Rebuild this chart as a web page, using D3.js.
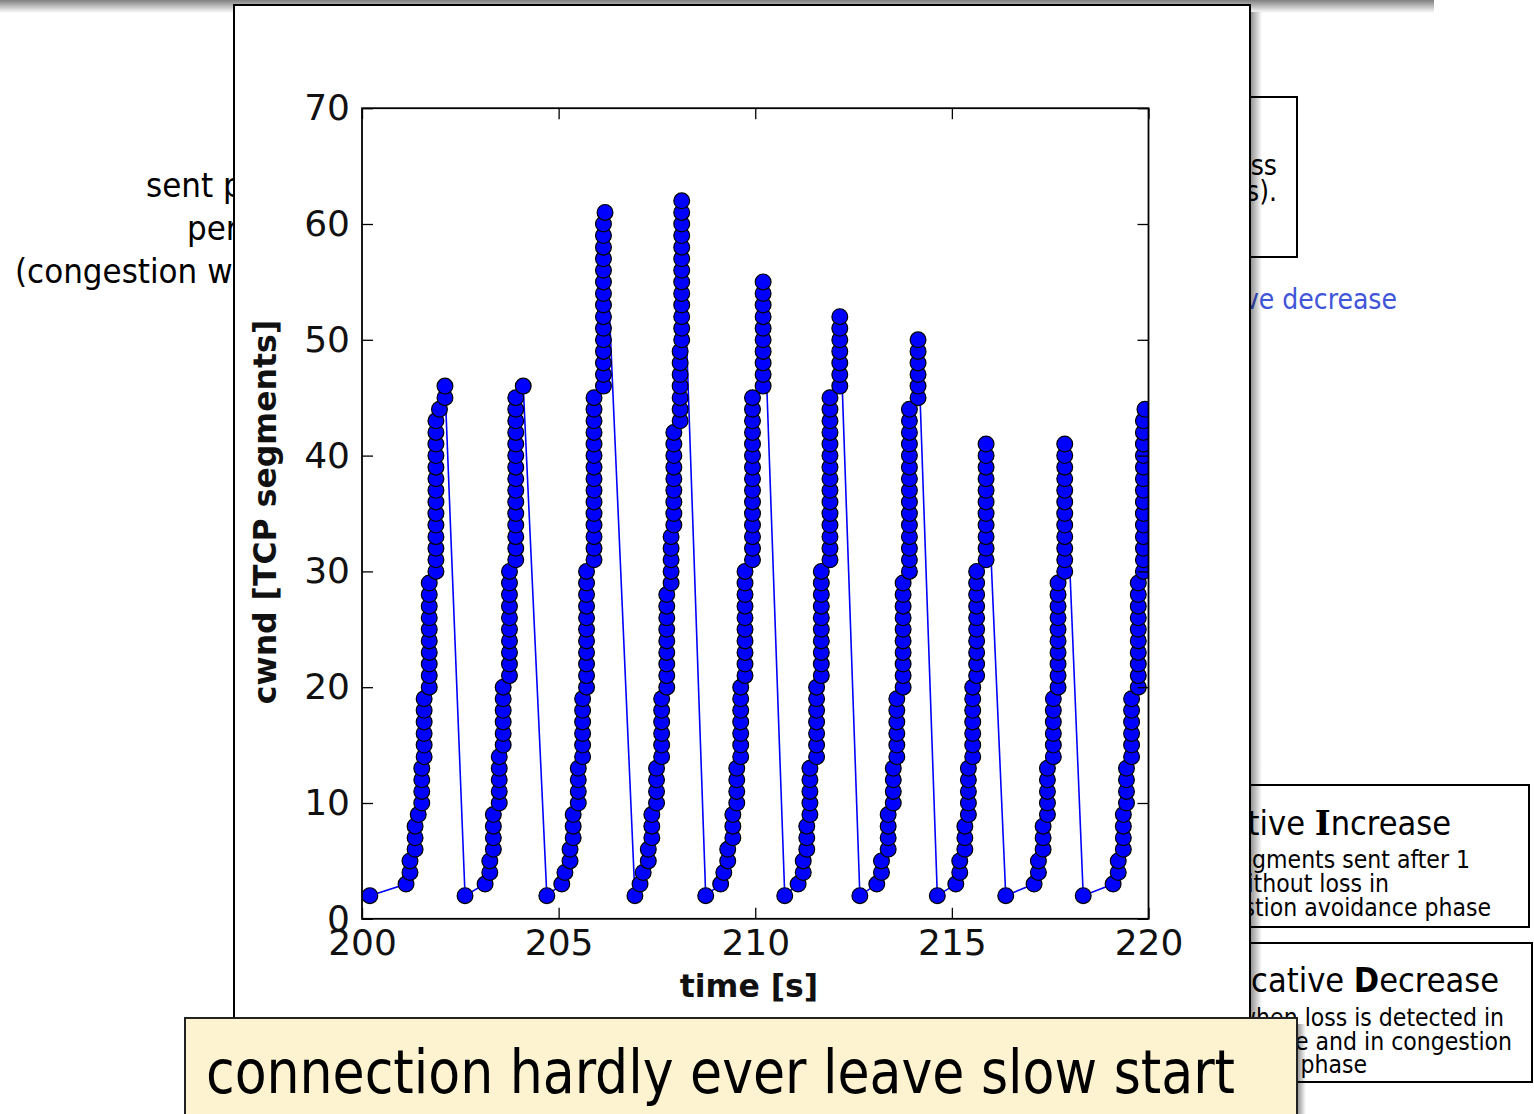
<!DOCTYPE html>
<html>
<head>
<meta charset="utf-8">
<script src="https://cdn.jsdelivr.net/npm/d3@7"></script>
<style>
  html, body { margin: 0; padding: 0; background: #fff; overflow: hidden; }
  svg { display: block; }
</style>
</head>
<body>
<svg id="slide" width="1534" height="1114"></svg>
<script>
// Axis ticks
const xTicks = [200, 205, 210, 215, 220];
const yTicks = [0, 10, 20, 30, 40, 50, 60, 70];

// cwnd trace [time s, cwnd segments], one array per slow-start cycle
const cycle1 = [
  [200.20,2],[201.12,3],[201.22,4],[201.22,5],[201.35,6],[201.35,7],[201.35,8],[201.43,9],
  [201.52,10],[201.52,11],[201.52,12],[201.52,13],
  [201.58,14],[201.58,15],[201.58,16],[201.58,17],[201.58,18],[201.58,19],
  [201.71,20],[201.71,21],[201.71,22],[201.71,23],[201.71,24],[201.71,25],[201.71,26],[201.71,27],[201.71,28],[201.71,29],
  [201.88,30],[201.88,31],[201.88,32],[201.88,33],[201.88,34],[201.88,35],[201.88,36],[201.88,37],[201.88,38],[201.88,39],[201.88,40],[201.88,41],[201.88,42],[201.88,43],
  [201.97,44],[202.11,45],[202.11,46]
];
const cycle2 = [
  [202.62,2],[203.13,3],[203.25,4],[203.25,5],
  [203.34,6],[203.34,7],[203.34,8],[203.34,9],
  [203.49,10],[203.49,11],[203.49,12],[203.49,13],[203.49,14],
  [203.59,15],[203.59,16],[203.59,17],[203.59,18],[203.59,19],[203.59,20],
  [203.75,21],[203.75,22],[203.75,23],[203.75,24],[203.75,25],[203.75,26],[203.75,27],[203.75,28],[203.75,29],[203.75,30],
  [203.91,31],[203.91,32],[203.91,33],[203.91,34],[203.91,35],[203.91,36],[203.91,37],[203.91,38],[203.91,39],[203.91,40],[203.91,41],[203.91,42],[203.91,43],[203.91,44],[203.91,45],
  [204.10,46]
];
const cycle3 = [
  [204.70,2],[205.08,3],[205.16,4],[205.29,5],[205.29,6],
  [205.37,7],[205.37,8],[205.37,9],
  [205.50,10],[205.50,11],[205.50,12],[205.50,13],
  [205.61,14],[205.61,15],[205.61,16],[205.61,17],[205.61,18],[205.61,19],
  [205.71,20],[205.71,21],[205.71,22],[205.71,23],[205.71,24],[205.71,25],[205.71,26],[205.71,27],[205.71,28],[205.71,29],[205.71,30],
  [205.90,31],[205.90,32],[205.90,33],[205.90,34],[205.90,35],[205.90,36],[205.90,37],[205.90,38],[205.90,39],[205.90,40],[205.90,41],[205.90,42],[205.90,43],[205.90,44],[205.90,45],
  [206.14,46],[206.14,47],[206.14,48],[206.14,49],[206.14,50],[206.14,51],[206.14,52],[206.14,53],[206.14,54],[206.14,55],[206.14,56],[206.14,57],[206.14,58],[206.14,59],[206.14,60],
  [206.18,61]
];
const cycle4 = [
  [206.94,2],[207.07,3],[207.15,4],[207.28,5],[207.28,6],
  [207.37,7],[207.37,8],[207.37,9],
  [207.49,10],[207.49,11],[207.49,12],[207.49,13],
  [207.62,14],[207.62,15],[207.62,16],[207.62,17],[207.62,18],[207.62,19],
  [207.75,20],[207.75,21],[207.75,22],[207.75,23],[207.75,24],[207.75,25],[207.75,26],[207.75,27],[207.75,28],
  [207.86,29],[207.86,30],[207.86,31],[207.86,32],[207.86,33],
  [207.93,34],[207.93,35],[207.93,36],[207.93,37],[207.93,38],[207.93,39],[207.93,40],[207.93,41],[207.93,42],
  [208.09,43],[208.09,44],[208.09,45],[208.09,46],[208.09,47],[208.09,48],[208.09,49],
  [208.13,50],[208.13,51],[208.13,52],[208.13,53],[208.13,54],[208.13,55],[208.13,56],[208.13,57],[208.13,58],[208.13,59],[208.13,60],[208.13,61],[208.13,62]
];
const cycle5 = [
  [208.74,2],[209.12,3],[209.20,4],[209.30,5],[209.30,6],
  [209.43,7],[209.43,8],[209.43,9],
  [209.53,10],[209.53,11],[209.53,12],[209.53,13],
  [209.63,14],[209.63,15],[209.63,16],[209.63,17],[209.63,18],[209.63,19],[209.63,20],
  [209.74,21],[209.74,22],[209.74,23],[209.74,24],[209.74,25],[209.74,26],[209.74,27],[209.74,28],[209.74,29],[209.74,30],
  [209.93,31],[209.93,32],[209.93,33],[209.93,34],[209.93,35],[209.93,36],[209.93,37],[209.93,38],[209.93,39],[209.93,40],[209.93,41],[209.93,42],[209.93,43],[209.93,44],[209.93,45],
  [210.20,46],[210.20,47],[210.20,48],[210.20,49],[210.20,50],[210.20,51],[210.20,52],[210.20,53],[210.20,54],[210.20,55]
];
const cycle6 = [
  [210.75,2],[211.09,3],[211.22,4],[211.22,5],
  [211.31,6],[211.31,7],[211.31,8],
  [211.39,9],[211.39,10],[211.39,11],[211.39,12],[211.39,13],
  [211.56,14],[211.56,15],[211.56,16],[211.56,17],[211.56,18],[211.56,19],[211.56,20],
  [211.68,21],[211.68,22],[211.68,23],[211.68,24],[211.68,25],[211.68,26],[211.68,27],[211.68,28],[211.68,29],[211.68,30],
  [211.90,31],[211.90,32],[211.90,33],[211.90,34],[211.90,35],[211.90,36],[211.90,37],[211.90,38],[211.90,39],[211.90,40],[211.90,41],[211.90,42],[211.90,43],[211.90,44],[211.90,45],
  [212.15,46],[212.15,47],[212.15,48],[212.15,49],[212.15,50],[212.15,51],[212.15,52]
];
const cycle7 = [
  [212.66,2],[213.09,3],[213.21,4],[213.21,5],
  [213.38,6],[213.38,7],[213.38,8],[213.38,9],
  [213.51,10],[213.51,11],[213.51,12],[213.51,13],
  [213.60,14],[213.60,15],[213.60,16],[213.60,17],[213.60,18],[213.60,19],
  [213.76,20],[213.76,21],[213.76,22],[213.76,23],[213.76,24],[213.76,25],[213.76,26],[213.76,27],[213.76,28],[213.76,29],
  [213.92,30],[213.92,31],[213.92,32],[213.92,33],[213.92,34],[213.92,35],[213.92,36],[213.92,37],[213.92,38],[213.92,39],[213.92,40],[213.92,41],[213.92,42],[213.92,43],[213.92,44],
  [214.14,45],[214.14,46],[214.14,47],[214.14,48],[214.14,49],[214.14,50]
];
const cycle8 = [
  [214.63,2],[215.10,3],[215.20,4],[215.20,5],
  [215.33,6],[215.33,7],[215.33,8],
  [215.42,9],[215.42,10],[215.42,11],[215.42,12],[215.42,13],
  [215.53,14],[215.53,15],[215.53,16],[215.53,17],[215.53,18],[215.53,19],[215.53,20],
  [215.63,21],[215.63,22],[215.63,23],[215.63,24],[215.63,25],[215.63,26],[215.63,27],[215.63,28],[215.63,29],[215.63,30],
  [215.87,31],[215.87,32],[215.87,33],[215.87,34],[215.87,35],[215.87,36],[215.87,37],[215.87,38],[215.87,39],[215.87,40],[215.87,41]
];
const cycle9 = [
  [216.37,2],[217.09,3],[217.20,4],[217.20,5],
  [217.32,6],[217.32,7],[217.32,8],
  [217.43,9],[217.43,10],[217.43,11],[217.43,12],[217.43,13],
  [217.58,14],[217.58,15],[217.58,16],[217.58,17],[217.58,18],[217.58,19],
  [217.70,20],[217.70,21],[217.70,22],[217.70,23],[217.70,24],[217.70,25],[217.70,26],[217.70,27],[217.70,28],[217.70,29],
  [217.87,30],[217.87,31],[217.87,32],[217.87,33],[217.87,34],[217.87,35],[217.87,36],[217.87,37],[217.87,38],[217.87,39],[217.87,40],[217.87,41]
];
const cycle10 = [
  [218.34,2],[219.10,3],[219.23,4],[219.23,5],
  [219.36,6],[219.36,7],[219.36,8],[219.36,9],
  [219.44,10],[219.44,11],[219.44,12],[219.44,13],
  [219.57,14],[219.57,15],[219.57,16],[219.57,17],[219.57,18],[219.57,19],
  [219.74,20],[219.74,21],[219.74,22],[219.74,23],[219.74,24],[219.74,25],[219.74,26],[219.74,27],[219.74,28],[219.74,29],
  [219.87,30],[219.87,31],[219.87,32],[219.87,33],[219.87,34],[219.87,35],[219.87,36],[219.87,37],[219.87,38],[219.87,39],[219.87,40],[219.87,41],[219.87,42],[219.87,43],
  [219.91,44]
];

const cycles = [cycle1, cycle2, cycle3, cycle4, cycle5, cycle6, cycle7, cycle8, cycle9, cycle10];
const trace = cycles.flat();

const svg = d3.select('#slide');
const defs = svg.append('defs');
const SANS_C = '"DejaVu Sans Condensed", "DejaVu Sans", sans-serif';
const SANS = '"DejaVu Sans", sans-serif';

// gradients for the slide shadows
const gTop = defs.append('linearGradient').attr('id', 'shadeTop').attr('x1', 0).attr('y1', 0).attr('x2', 0).attr('y2', 1);
gTop.append('stop').attr('offset', 0).attr('stop-color', '#000').attr('stop-opacity', 0.5);
gTop.append('stop').attr('offset', 1).attr('stop-color', '#000').attr('stop-opacity', 0);
const gRight = defs.append('linearGradient').attr('id', 'shadeRight').attr('x1', 0).attr('y1', 0).attr('x2', 1).attr('y2', 0);
gRight.append('stop').attr('offset', 0).attr('stop-color', '#000').attr('stop-opacity', 0.45);
gRight.append('stop').attr('offset', 1).attr('stop-color', '#000').attr('stop-opacity', 0);

svg.append('rect').attr('width', 1534).attr('height', 1114).attr('fill', '#fff');

// slide content lying behind the chart panel
const bg = svg.append('g');
bg.append('rect').attr('x', 0).attr('y', 0).attr('width', 1434).attr('height', 13).attr('fill', 'url(#shadeTop)');

const leftText = [
  { t: 'sent p', x: 146, y: 197 },
  { t: 'per', x: 187, y: 240 },
  { t: '(congestion w', x: 15, y: 283 }
];
bg.selectAll('text.left').data(leftText).join('text')
  .attr('x', d => d.x).attr('y', d => d.y)
  .attr('font-family', SANS_C).attr('font-size', 34.5).attr('fill', '#000')
  .text(d => d.t);

bg.append('rect').attr('x', 1200).attr('y', 97).attr('width', 97).attr('height', 160)
  .attr('fill', '#fff').attr('stroke', '#000').attr('stroke-width', 2);
bg.append('text').attr('x', 1277).attr('y', 175).attr('text-anchor', 'end')
  .attr('font-family', SANS_C).attr('font-size', 28).text('loss');
bg.append('text').attr('x', 1277).attr('y', 201).attr('text-anchor', 'end')
  .attr('font-family', SANS_C).attr('font-size', 28).text('ks).');

bg.append('text').attr('x', 1397).attr('y', 309).attr('text-anchor', 'end')
  .attr('font-family', SANS_C).attr('font-size', 28).attr('fill', '#4155d9')
  .text('ive decrease');

function noteBox(box) {
  bg.append('rect').attr('x', box.x).attr('y', box.y).attr('width', box.w).attr('height', box.h)
    .attr('fill', '#fff').attr('stroke', '#000').attr('stroke-width', 2);
  const title = bg.append('text').attr('x', box.titleEnd).attr('y', box.titleY).attr('text-anchor', 'end')
    .attr('font-family', SANS_C).attr('font-size', 34).attr('fill', '#000');
  title.append('tspan').text(box.pre);
  title.append('tspan').attr('font-weight', 'bold').attr('font-family', box.capFont).text(box.cap);
  title.append('tspan').text(box.post);
  box.lines.forEach(l => {
    bg.append('text').attr('x', l.end).attr('y', l.y).attr('text-anchor', 'end')
      .attr('font-family', SANS_C).attr('font-size', 24.5).attr('fill', '#000').text(l.t);
  });
}
noteBox({
  x: 1200, y: 785, w: 329, h: 142, titleEnd: 1451, titleY: 835,
  pre: 'itive ', cap: 'I', post: 'ncrease', capFont: '"DejaVu Serif", serif',
  lines: [
    { t: 'segments sent after 1', end: 1470, y: 868 },
    { t: 'without loss in', end: 1389, y: 892 },
    { t: 'estion avoidance phase', end: 1491, y: 916 }
  ]
});
noteBox({
  x: 1200, y: 943, w: 332, h: 139, titleEnd: 1499, titleY: 992,
  pre: 'licative ', cap: 'D', post: 'ecrease', capFont: SANS_C,
  lines: [
    { t: 'when loss is detected in', end: 1504, y: 1026 },
    { t: 'se and in congestion', end: 1512, y: 1050 },
    { t: 'phase', end: 1367, y: 1073 }
  ]
});

// chart panel with its shadow
svg.append('rect').attr('x', 1250).attr('y', 12).attr('width', 12).attr('height', 1102).attr('fill', 'url(#shadeRight)');
svg.append('rect').attr('x', 234).attr('y', 5).attr('width', 1016).attr('height', 1060)
  .attr('fill', '#fff').attr('stroke', '#000').attr('stroke-width', 2);

// plot
const x = d3.scaleLinear().domain([200, 220]).range([362, 1148.5]);
const y = d3.scaleLinear().domain([0, 70]).range([918.8, 108.2]);

defs.append('clipPath').attr('id', 'plotClip').append('rect')
  .attr('x', x(200)).attr('y', y(70)).attr('width', x(220) - x(200)).attr('height', y(0) - y(70));

const plot = svg.append('g').attr('clip-path', 'url(#plotClip)');
plot.append('path').datum(trace)
  .attr('d', d3.line().x(d => x(d[0])).y(d => y(d[1])))
  .attr('fill', 'none').attr('stroke', '#0000ff').attr('stroke-width', 1.6);
plot.selectAll('circle').data(trace).join('circle')
  .attr('cx', d => x(d[0])).attr('cy', d => y(d[1])).attr('r', 7.9)
  .attr('fill', '#0000ff').attr('stroke', '#000').attr('stroke-width', 1.2);

function styleAxis(g) {
  g.select('.domain').remove();
  g.selectAll('.tick line').attr('stroke', '#000').attr('stroke-width', 1.3);
  g.selectAll('.tick text').attr('font-family', SANS).attr('font-size', 36).attr('fill', '#111');
}
svg.append('g').attr('transform', `translate(0,${y(0)})`)
  .call(d3.axisBottom(x).tickValues(xTicks).tickSizeInner(-11).tickSizeOuter(0).tickPadding(11).tickFormat(d3.format('d')))
  .call(styleAxis);
svg.append('g').attr('transform', `translate(${x(200)},0)`)
  .call(d3.axisLeft(y).tickValues(yTicks).tickSizeInner(-11).tickSizeOuter(0).tickPadding(12).tickFormat(d3.format('d')))
  .call(styleAxis);
svg.append('g').attr('transform', `translate(0,${y(70)})`)
  .call(d3.axisTop(x).tickValues(xTicks).tickSizeInner(-11).tickSizeOuter(0).tickFormat(''))
  .call(styleAxis);
svg.append('g').attr('transform', `translate(${x(220)},0)`)
  .call(d3.axisRight(y).tickValues(yTicks).tickSizeInner(-11).tickSizeOuter(0).tickFormat(''))
  .call(styleAxis);

svg.append('rect').attr('x', x(200)).attr('y', y(70)).attr('width', x(220) - x(200)).attr('height', y(0) - y(70))
  .attr('fill', 'none').attr('stroke', '#000').attr('stroke-width', 1.8);

svg.append('text').attr('x', 749).attr('y', 997).attr('text-anchor', 'middle')
  .attr('font-family', SANS).attr('font-weight', 'bold').attr('font-size', 31.5).attr('fill', '#111')
  .text('time [s]');
svg.append('text').attr('transform', 'translate(276,512) rotate(-90)').attr('text-anchor', 'middle')
  .attr('font-family', SANS).attr('font-weight', 'bold').attr('font-size', 31.5).attr('fill', '#111')
  .text('cwnd [TCP segments]');

// caption bar
svg.append('rect').attr('x', 1297).attr('y', 1024).attr('width', 9).attr('height', 90).attr('fill', 'url(#shadeRight)');
svg.append('rect').attr('x', 185).attr('y', 1018).attr('width', 1112).attr('height', 110)
  .attr('fill', '#fef3d0').attr('stroke', '#222').attr('stroke-width', 2);
svg.append('text').attr('x', 206).attr('y', 1093)
  .attr('font-family', SANS_C).attr('font-size', 60).attr('fill', '#000')
  .attr('textLength', 1029).attr('lengthAdjust', 'spacingAndGlyphs')
  .text('connection hardly ever leave slow start');
</script>
</body>
</html>
